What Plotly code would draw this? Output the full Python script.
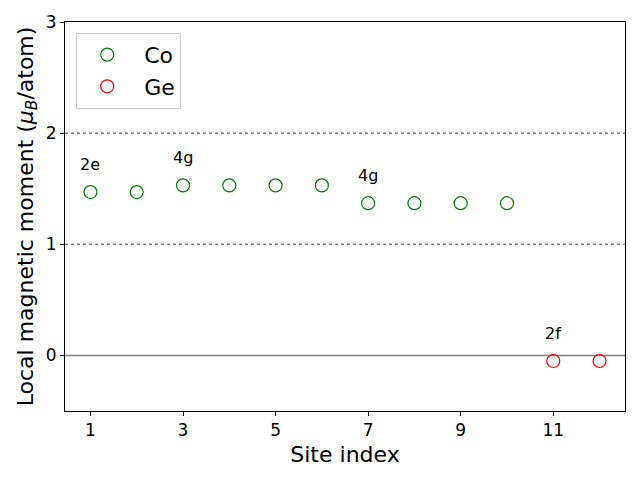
import plotly.graph_objects as go

co_sites = [1, 2, 3, 4, 5, 6, 7, 8, 9, 10]
co_moments = [1.47, 1.47, 1.53, 1.53, 1.53, 1.53, 1.37, 1.37, 1.37, 1.37]
ge_sites = [11, 12]
ge_moments = [-0.05, -0.05]

wyckoff_labels = ["2e", "4g", "4g", "2f"]
wyckoff_sites = [1, 3, 7, 11]
wyckoff_y = [1.72, 1.78, 1.62, 0.20]

x_ticks = [1, 3, 5, 7, 9, 11]
y_ticks = [0, 1, 2, 3]

font = "DejaVu Sans, Arial, sans-serif"

fig = go.Figure()
fig.add_trace(go.Scatter(x=co_sites, y=co_moments, mode="markers", name="&nbsp;Co",
                         marker=dict(symbol="circle-open", size=13, color="green", line=dict(width=1.2))))
fig.add_trace(go.Scatter(x=ge_sites, y=ge_moments, mode="markers", name="&nbsp;Ge",
                         marker=dict(symbol="circle-open", size=13, color="red", line=dict(width=1.2))))

fig.add_hline(y=0, line=dict(color="gray", width=1.5), layer="below")
for yv in [1, 2]:
    fig.add_hline(y=yv, line=dict(color="gray", width=1.5, dash="dot"), layer="below")

for lbl, sx, sy in zip(wyckoff_labels, wyckoff_sites, wyckoff_y):
    fig.add_annotation(x=sx, y=sy, text=lbl, showarrow=False,
                       font=dict(family=font, size=16, color="black"),
                       xanchor="center", yanchor="middle")

axis_common = dict(showgrid=False, zeroline=False, showline=True, linecolor="black", linewidth=1,
                   mirror=True, ticks="outside", ticklen=4, tickwidth=1, tickcolor="black",
                   automargin=False,
                   tickfont=dict(family=font, size=17, color="black"))

fig.update_xaxes(range=[0.45, 12.55], tickvals=x_ticks,
                 title=dict(text="Site index", font=dict(family=font, size=22, color="black"), standoff=7),
                 **axis_common)
fig.update_yaxes(range=[-0.5, 3.0], tickvals=y_ticks,
                 title=dict(text="Local magnetic moment (<i>μ<sub>B</sub></i>/atom)",
                            font=dict(family=font, size=22, color="black"), standoff=6),
                 **axis_common)

fig.update_layout(
    width=640, height=480,
    margin=dict(l=57, r=23, t=14, b=77),
    paper_bgcolor="white", plot_bgcolor="white",
    showlegend=True,
    legend=dict(x=0.02, y=0.972, xanchor="left", yanchor="top",
                bgcolor="white", bordercolor="#cccccc", borderwidth=1,
                itemwidth=50, tracegroupgap=0,
                font=dict(family=font, size=22, color="black")),
)

fig.write_html("out.html")
